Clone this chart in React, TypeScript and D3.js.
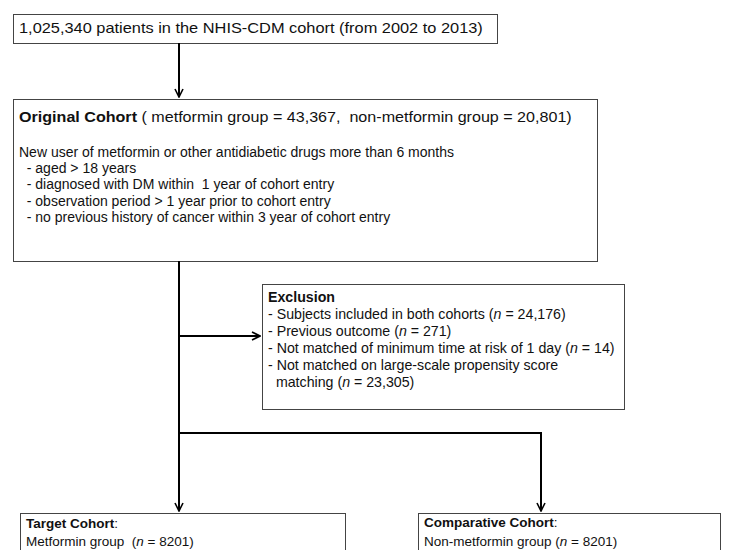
import { useEffect, useRef } from 'react';
import * as d3 from 'd3';

// box texts
const sourceLine = '1,025,340 patients in the NHIS-CDM cohort (from 2002 to 2013)';
const originalTitle = 'Original Cohort';
const originalCounts = ' ( metformin group = 43,367,  non-metformin group = 20,801)';
const inclusionLead = 'New user of metformin or other antidiabetic drugs more than 6 months';
const inclusionCriteria = [
  '  - aged > 18 years',
  '  - diagnosed with DM within  1 year of cohort entry',
  '  - observation period > 1 year prior to cohort entry',
  '  - no previous history of cancer within 3 year of cohort entry',
];
const exclusionTitle = 'Exclusion';
const exclusionLines = [
  '- Subjects included in both cohorts (n = 24,176)',
  '- Previous outcome (n = 271)',
  '- Not matched of minimum time at risk of 1 day (n = 14)',
  '- Not matched on large-scale propensity score',
  '  matching (n = 23,305)',
];
const targetTitle = 'Target Cohort';
const targetLine = 'Metformin group  (n = 8201)';
const comparativeTitle = 'Comparative Cohort';
const comparativeLine = 'Non-metformin group (n = 8201)';

const FONT = '"Liberation Sans", Arial, sans-serif';

export default function App() {
  const svgRef = useRef<SVGSVGElement>(null);

  useEffect(() => {
    if (!svgRef.current) return;
    const width = 737;
    const height = 550;
    const svg = d3.select(svgRef.current).attr('width', width).attr('height', height);
    svg.selectAll('*').remove();

    svg
      .append('defs')
      .append('marker')
      .attr('id', 'arrow')
      .attr('viewBox', '0 0 10 10')
      .attr('refX', 9)
      .attr('refY', 5)
      .attr('markerWidth', 5)
      .attr('markerHeight', 5)
      .attr('markerUnits', 'strokeWidth')
      .attr('orient', 'auto')
      .append('path')
      .attr('d', 'M1,1 L9,5 L1,9')
      .attr('fill', 'none')
      .attr('stroke', '#000')
      .attr('stroke-width', 1.6);

    const boxes = [
      { x: 13, y: 14, w: 484, h: 29 },
      { x: 13, y: 99, w: 584, h: 162 },
      { x: 262, y: 284, w: 362, h: 125 },
      { x: 20, y: 513, w: 325, h: 60 },
      { x: 418, y: 513, w: 302, h: 60 },
    ];

    svg
      .selectAll('rect.box')
      .data(boxes)
      .enter()
      .append('rect')
      .attr('class', 'box')
      .attr('x', (d) => d.x + 0.5)
      .attr('y', (d) => d.y + 0.5)
      .attr('width', (d) => d.w)
      .attr('height', (d) => d.h)
      .attr('fill', '#fff')
      .attr('stroke', '#444')
      .attr('stroke-width', 1);

    const line = d3.line();
    const arrows: [number, number][][] = [
      [[179, 43], [179, 97]],
      [[179, 261], [179, 511]],
      [[179, 336], [260, 336]],
      [[179, 433], [541, 433], [541, 511]],
    ];
    svg
      .selectAll('path.link')
      .data(arrows)
      .enter()
      .append('path')
      .attr('class', 'link')
      .attr('d', (d) => line(d))
      .attr('fill', 'none')
      .attr('stroke', '#000')
      .attr('stroke-width', 2)
      .attr('marker-end', 'url(#arrow)');

    const g = svg.append('g').style('font-family', FONT).attr('fill', '#111');

    // the first two lines of the source are drawn a little wider than the rest
    const newText = (x: number, y: number, size: number, stretch = 1) =>
      g
        .append('text')
        .attr('transform', `translate(${x},${y}) scale(${stretch},1)`)
        .style('font-size', `${size}px`)
        .style('white-space', 'pre');

    // writes a line, rendering the "n" of "n =" in italics
    const writeLine = (x: number, y: number, str: string, size: number, stretch = 1, bold = false) => {
      const t = newText(x, y, size, stretch);
      if (bold) t.style('font-weight', 'bold');
      str.split(/(\bn(?= =))/).forEach((p) => {
        if (!p) return;
        const s = t.append('tspan').text(p);
        if (p === 'n') s.style('font-style', 'italic');
      });
      return t;
    };

    writeLine(19, 33, sourceLine, 14, 1.17);

    const orig = newText(19, 122, 14, 1.15);
    orig.append('tspan').style('font-weight', 'bold').text(originalTitle);
    orig.append('tspan').text(originalCounts);

    writeLine(19, 157, inclusionLead, 14);
    inclusionCriteria.forEach((c, i) => writeLine(19, 173 + i * 16.3, c, 14));

    writeLine(268, 302, exclusionTitle, 14.2, 1, true);
    exclusionLines.forEach((c, i) => writeLine(268, 319 + i * 16.9, c, 14.2));

    const tt = newText(26, 528, 13.5);
    tt.append('tspan').style('font-weight', 'bold').text(targetTitle);
    tt.append('tspan').text(':');
    writeLine(26, 546, targetLine, 13.5);

    const ct = newText(424, 527, 13.5);
    ct.append('tspan').style('font-weight', 'bold').text(comparativeTitle);
    ct.append('tspan').text(':');
    writeLine(424, 546, comparativeLine, 13.5);
  }, []);

  return (
    <div style={{ position: 'absolute', left: 0, top: 0, width: 737, height: 550, background: '#fff', overflow: 'hidden' }}>
      <svg ref={svgRef} style={{ display: 'block' }} />
    </div>
  );
}
